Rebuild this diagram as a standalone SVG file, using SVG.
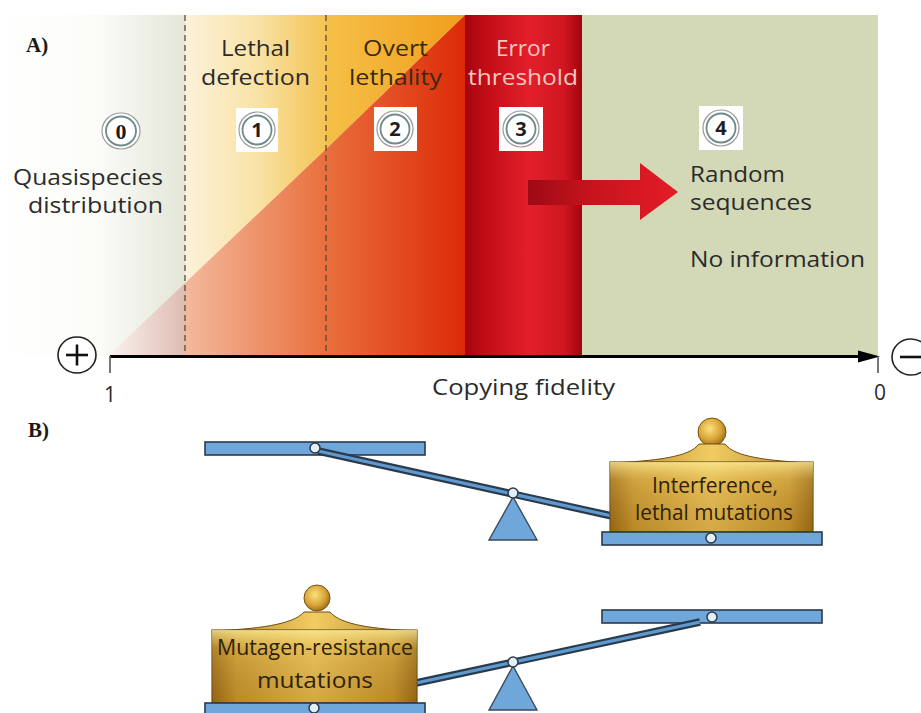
<svg xmlns="http://www.w3.org/2000/svg" width="921" height="713" viewBox="0 0 921 713">
  <defs>
    <style>
      .lbl { font-family: "Open Sans", "Liberation Sans", sans-serif; font-size: 21px; fill: #2b2b2b; }
      .wlbl { font-family: "Open Sans", "Liberation Sans", sans-serif; font-size: 21px; fill: #2e220a; }
      .panel { font-family: "Liberation Serif", serif; font-size: 21px; font-weight: bold; fill: #1a1a1a; }
      .num { font-family: "Open Sans", "Liberation Sans", sans-serif; font-size: 20px; font-weight: bold; fill: #1e1e1e; }
      .dash { stroke: #5b4a38; stroke-width: 1.3; stroke-dasharray: 6 4; fill: none; }
      .bar { fill: #6fa7da; stroke: #2b3a4a; stroke-width: 1.6; }
      .pin { fill: #e4eef6; stroke: #2b3a4a; stroke-width: 1.5; }
      .beamOut { stroke: #2b3a4a; stroke-width: 7.5; stroke-linecap: butt; fill: none; }
      .beamIn { stroke: #5e99d0; stroke-width: 3.2; stroke-linecap: butt; fill: none; }
      .fulcrum { fill: #6fa7da; stroke: #3a4a5c; stroke-width: 1.4; }
      .gold { fill: url(#goldBox); stroke: #6d4c12; stroke-width: 1.2; }
      .dome { fill: url(#goldDome); stroke: #6d4c12; stroke-width: 1; }
      .knob { fill: url(#goldKnob); stroke: #7a5512; stroke-width: 1; }
      .ring { fill: #ffffff; stroke: #9a9a9a; stroke-width: 1.2; }
      .ringIn { fill: none; stroke: #6f8a8a; stroke-width: 1.8; }
      .sq { fill: #ffffff; }
    </style>
    <linearGradient id="g0" x1="0" y1="0" x2="185" y2="0" gradientUnits="userSpaceOnUse">
      <stop offset="0" stop-color="#ffffff"/>
      <stop offset="0.55" stop-color="#fbfbf7"/>
      <stop offset="1" stop-color="#e3e6d8"/>
    </linearGradient>
    <linearGradient id="g0tri" x1="108" y1="0" x2="185" y2="0" gradientUnits="userSpaceOnUse">
      <stop offset="0" stop-color="#fbf3f0"/>
      <stop offset="1" stop-color="#dfbcb2"/>
    </linearGradient>
    <linearGradient id="g1" x1="185" y1="0" x2="326" y2="0" gradientUnits="userSpaceOnUse">
      <stop offset="0" stop-color="#fcf2da"/>
      <stop offset="0.5" stop-color="#f9e3a8"/>
      <stop offset="1" stop-color="#f4c454"/>
    </linearGradient>
    <linearGradient id="g2" x1="326" y1="0" x2="465" y2="0" gradientUnits="userSpaceOnUse">
      <stop offset="0" stop-color="#f5c048"/>
      <stop offset="1" stop-color="#f19e1c"/>
    </linearGradient>
    <linearGradient id="gLow" x1="185" y1="0" x2="465" y2="0" gradientUnits="userSpaceOnUse">
      <stop offset="0" stop-color="#f3b99c"/>
      <stop offset="0.5" stop-color="#e9703e"/>
      <stop offset="1" stop-color="#dc2a06"/>
    </linearGradient>
    <linearGradient id="g3" x1="465" y1="0" x2="582" y2="0" gradientUnits="userSpaceOnUse">
      <stop offset="0" stop-color="#a4050e"/>
      <stop offset="0.18" stop-color="#c20d16"/>
      <stop offset="0.55" stop-color="#e31f2a"/>
      <stop offset="0.85" stop-color="#cf1620"/>
      <stop offset="1" stop-color="#9e050c"/>
    </linearGradient>
    <linearGradient id="gArrow" x1="528" y1="0" x2="678" y2="0" gradientUnits="userSpaceOnUse">
      <stop offset="0" stop-color="#9e0a14"/>
      <stop offset="0.45" stop-color="#c8141e"/>
      <stop offset="1" stop-color="#e41c26"/>
    </linearGradient>
    <linearGradient id="goldBox" x1="0" y1="0" x2="1" y2="0">
      <stop offset="0" stop-color="#966516"/>
      <stop offset="0.12" stop-color="#c3912c"/>
      <stop offset="0.5" stop-color="#e2b850"/>
      <stop offset="0.88" stop-color="#c3912c"/>
      <stop offset="1" stop-color="#966516"/>
    </linearGradient>
    <linearGradient id="goldTop" x1="0" y1="0" x2="0" y2="1">
      <stop offset="0" stop-color="#fff2a0" stop-opacity="0.75"/>
      <stop offset="0.25" stop-color="#f8dc78" stop-opacity="0.25"/>
      <stop offset="1" stop-color="#8a5c10" stop-opacity="0.15"/>
    </linearGradient>
    <linearGradient id="goldDome" x1="0" y1="0" x2="1" y2="0">
      <stop offset="0" stop-color="#b5852a"/>
      <stop offset="0.5" stop-color="#f0cc62"/>
      <stop offset="1" stop-color="#b5852a"/>
    </linearGradient>
    <radialGradient id="goldKnob" cx="0.42" cy="0.38" r="0.65">
      <stop offset="0" stop-color="#fbe27a"/>
      <stop offset="0.6" stop-color="#d9a63a"/>
      <stop offset="1" stop-color="#9c6c18"/>
    </radialGradient>
  </defs>

  <rect width="921" height="713" fill="#ffffff"/>

  <!-- Panel A: fidelity bands -->
  <g id="region-0">
    <rect x="0" y="15" width="185" height="341" fill="url(#g0)"/>
    <polygon points="108,356 185,356 185,283" fill="url(#g0tri)"/>
    <text class="lbl" x="163" y="185" text-anchor="end" textLength="150" lengthAdjust="spacingAndGlyphs">Quasispecies</text>
    <text class="lbl" x="163" y="213" text-anchor="end" textLength="135" lengthAdjust="spacingAndGlyphs">distribution</text>
    <ellipse class="ring" cx="121" cy="131" rx="19" ry="18"/>
    <ellipse class="ringIn" cx="121" cy="131" rx="15" ry="14.5"/>
    <text x="121" y="139" text-anchor="middle" font-family="Liberation Serif, serif" font-weight="bold" font-size="22" fill="#1a1a1a">0</text>
  </g>

  <g id="region-1">
    <polygon points="185,15 326,15 326,149 185,283" fill="url(#g1)"/>
    <polygon points="185,283 326,149 326,356 185,356" fill="url(#gLow)"/>
    <text class="lbl" x="221" y="56" textLength="69" lengthAdjust="spacingAndGlyphs">Lethal</text>
    <text class="lbl" x="201" y="85" textLength="109" lengthAdjust="spacingAndGlyphs">defection</text>
    <rect class="sq" x="236" y="108" width="42" height="44"/>
    <ellipse class="ring" cx="257" cy="130" rx="18" ry="18"/>
    <ellipse class="ringIn" cx="257" cy="130" rx="14.5" ry="14.5"/>
    <text class="num" x="257" y="137" text-anchor="middle">1</text>
  </g>

  <g id="region-2">
    <polygon points="326,15 465,15 326,149" fill="url(#g2)"/>
    <polygon points="326,149 465,15 465,356 326,356" fill="url(#gLow)"/>
    <text class="lbl" x="363" y="56" textLength="65" lengthAdjust="spacingAndGlyphs" style="fill:#3a2a0c">Overt</text>
    <text class="lbl" x="349" y="85" textLength="93" lengthAdjust="spacingAndGlyphs" style="fill:#3a2a0c">lethality</text>
    <rect class="sq" x="374" y="107" width="43" height="44"/>
    <ellipse class="ring" cx="395" cy="129" rx="18" ry="18"/>
    <ellipse class="ringIn" cx="395" cy="129" rx="14.5" ry="14.5"/>
    <text class="num" x="395" y="136" text-anchor="middle">2</text>
  </g>

  <g id="region-3">
    <rect x="465" y="15" width="117" height="341" fill="url(#g3)"/>
    <text class="lbl" x="496" y="56" textLength="54" lengthAdjust="spacingAndGlyphs" style="fill:#f6c7bf">Error</text>
    <text class="lbl" x="468" y="85" textLength="110" lengthAdjust="spacingAndGlyphs" style="fill:#f6c7bf">threshold</text>
    <rect class="sq" x="499" y="107" width="44" height="44"/>
    <ellipse class="ring" cx="521" cy="129" rx="18" ry="18"/>
    <ellipse class="ringIn" cx="521" cy="129" rx="14.5" ry="14.5"/>
    <text class="num" x="521" y="136" text-anchor="middle">3</text>
  </g>

  <g id="region-4">
    <rect x="582" y="15" width="296" height="341" fill="#d3d8b7"/>
    <rect class="sq" x="699" y="106" width="44" height="44"/>
    <ellipse class="ring" cx="721" cy="128" rx="18" ry="18"/>
    <ellipse class="ringIn" cx="721" cy="128" rx="14.5" ry="14.5"/>
    <text class="num" x="721" y="135" text-anchor="middle">4</text>
    <text class="lbl" x="690" y="182" textLength="95" lengthAdjust="spacingAndGlyphs">Random</text>
    <text class="lbl" x="690" y="210" textLength="122" lengthAdjust="spacingAndGlyphs">sequences</text>
    <text class="lbl" x="690" y="267" textLength="175" lengthAdjust="spacingAndGlyphs">No information</text>
  </g>

  <!-- band boundaries -->
  <g id="boundaries">
    <line class="dash" x1="185" y1="15" x2="185" y2="356"/>
    <line class="dash" x1="326" y1="15" x2="326" y2="356"/>
  </g>

  <text class="panel" x="26" y="52">A)</text>
  <text class="panel" x="28" y="437">B)</text>

  <!-- connectors: fidelity axis and transition arrow -->
  <g id="connectors">
    <polygon points="528,180 640,180 640,163 678,192 640,220 640,205 528,205" fill="url(#gArrow)"/>
    <line x1="110" y1="356.5" x2="862" y2="356.5" stroke="#000000" stroke-width="3.2"/>
    <polygon points="858,350.5 880,356.5 858,362.5" fill="#000000"/>
    <line x1="110" y1="356" x2="110" y2="373" stroke="#555555" stroke-width="1.6"/>
    <line x1="878" y1="356" x2="878" y2="373" stroke="#555555" stroke-width="1.6"/>
  </g>

  <g id="axis-labels">
    <ellipse cx="77" cy="355" rx="19" ry="18" fill="#ffffff" stroke="#222222" stroke-width="1.6"/>
    <line x1="66" y1="355" x2="88" y2="355" stroke="#111111" stroke-width="2.6"/>
    <line x1="77" y1="344.5" x2="77" y2="365.5" stroke="#111111" stroke-width="2.6"/>
    <ellipse cx="911" cy="357" rx="19" ry="18" fill="#ffffff" stroke="#222222" stroke-width="1.6"/>
    <line x1="900" y1="357" x2="921" y2="357" stroke="#111111" stroke-width="2.6"/>
    <text class="lbl" x="110" y="402" text-anchor="middle">1</text>
    <text class="lbl" x="880" y="400" text-anchor="middle">0</text>
    <text class="lbl" x="432" y="395" textLength="183" lengthAdjust="spacingAndGlyphs">Copying fidelity</text>
  </g>

  <!-- Panel B: balance tipped toward extinction -->
  <g id="balance-1">
    <rect class="bar" x="205" y="442" width="220" height="13"/>
    <line class="beamOut" x1="318" y1="451" x2="612" y2="516"/>
    <line class="beamIn" x1="318" y1="451" x2="612" y2="516"/>
    <circle class="pin" cx="315" cy="448" r="5"/>
    <polygon class="fulcrum" points="513,497 489,540 537,540"/>
    <circle class="pin" cx="513" cy="493" r="5"/>
    <circle class="knob" cx="712" cy="432" r="14"/>
    <path class="dome" d="M610,463 C655,461 690,457 699,444 L725,444 C734,457 769,461 813,463 Z"/>
    <rect class="gold" x="610" y="462" width="203" height="70"/>
    <rect x="610" y="462" width="203" height="70" fill="url(#goldTop)"/>
    <rect class="bar" x="602" y="532" width="220" height="13"/>
    <circle class="pin" cx="711" cy="538" r="5"/>
    <text class="wlbl" x="652" y="493" textLength="126" lengthAdjust="spacingAndGlyphs">Interference,</text>
    <text class="wlbl" x="635" y="520" textLength="158" lengthAdjust="spacingAndGlyphs">lethal mutations</text>
  </g>

  <!-- Panel B: balance tipped toward survival -->
  <g id="balance-2">
    <rect class="bar" x="602" y="610" width="220" height="13"/>
    <line class="beamOut" x1="416" y1="683" x2="700" y2="622"/>
    <line class="beamIn" x1="416" y1="683" x2="700" y2="622"/>
    <circle class="pin" cx="712" cy="617" r="5"/>
    <polygon class="fulcrum" points="513,666 489,710 537,710"/>
    <circle class="pin" cx="513" cy="662" r="5"/>
    <circle class="knob" cx="317" cy="598" r="13"/>
    <path class="dome" d="M212,631 C256,629 293,625 304,612 L330,612 C341,625 373,629 417,631 Z"/>
    <rect class="gold" x="212" y="630" width="205" height="73"/>
    <rect x="212" y="630" width="205" height="73" fill="url(#goldTop)"/>
    <rect class="bar" x="205" y="703" width="220" height="13"/>
    <circle class="pin" cx="314" cy="708" r="5"/>
    <text class="wlbl" x="217" y="655" textLength="196" lengthAdjust="spacingAndGlyphs">Mutagen-resistance</text>
    <text class="wlbl" x="257" y="688" textLength="116" lengthAdjust="spacingAndGlyphs">mutations</text>
  </g>
</svg>
